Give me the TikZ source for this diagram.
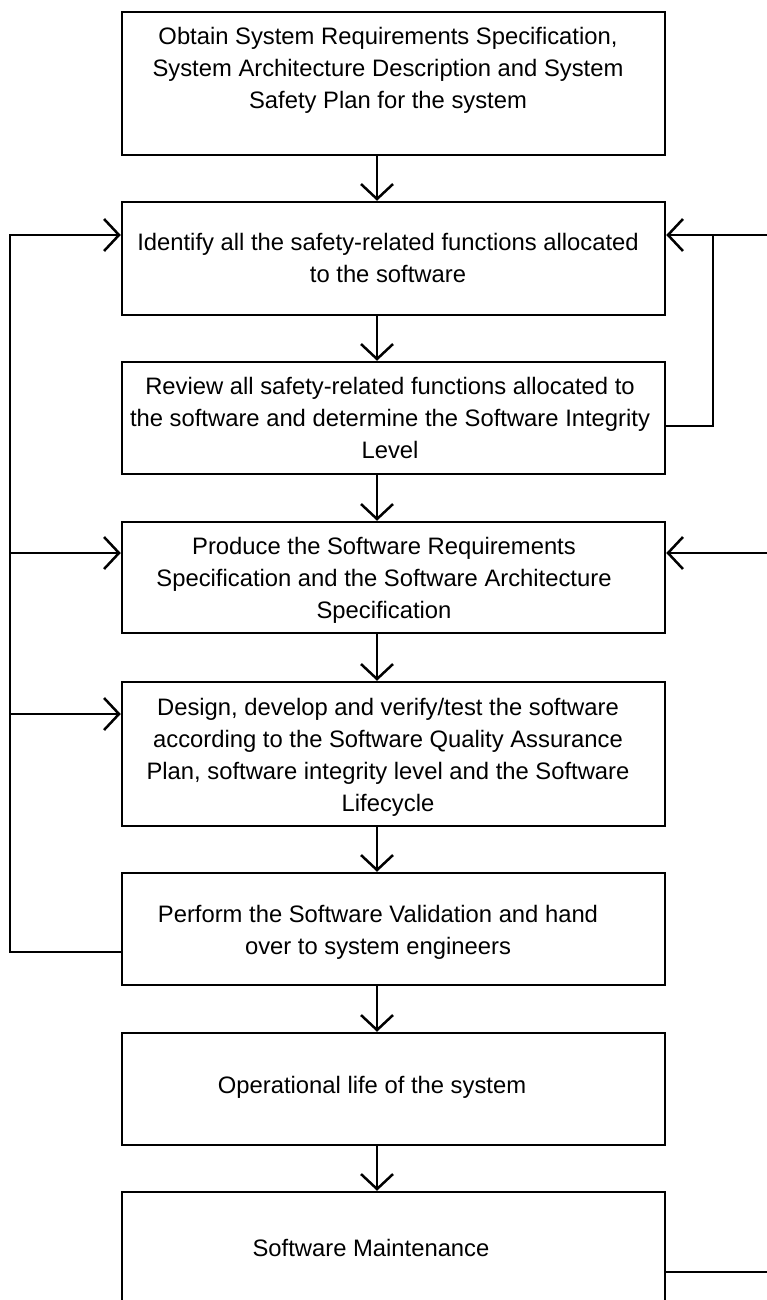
\documentclass[tikz,border=0pt]{standalone}
\usepackage{fontspec}
\setmainfont{Liberation Sans}
\usetikzlibrary{arrows.meta}
\tikzset{
  box/.style={draw=black, line width=2.5pt, rectangle, minimum width=543pt, inner sep=0pt, fill=white},
  txt/.style={align=center, inner sep=0pt, font=\fontsize{23.8}{32}\selectfont},
  conn/.style={draw=black, line width=2.5pt},
  arr/.style={conn, -{Straight Barb[length=15pt, width=32pt, line width=2.5pt]}}
}
\begin{document}
\begin{tikzpicture}[x=1pt,y=-1pt]
\clip (0,0) rectangle (767,1300);
\fill[white] (0,0) rectangle (767,1300);

% boxes
\node[box, minimum height=143pt] (b1) at (393.5,83.5) {};
\node[box, minimum height=113pt] (b2) at (393.5,258.5) {};
\node[box, minimum height=112pt] (b3) at (393.5,418) {};
\node[box, minimum height=111pt] (b4) at (393.5,577.5) {};
\node[box, minimum height=144pt] (b5) at (393.5,754) {};
\node[box, minimum height=112pt] (b6) at (393.5,929) {};
\node[box, minimum height=112pt] (b7) at (393.5,1089) {};
\node[box, minimum height=113pt] (b8) at (393.5,1248.5) {};

% texts
\node[txt] (t1) at (388,70) {Obtain System Requirements Specification,\\System Architecture Description and System\\Safety Plan for the system};
\node[txt] (t2) at (388,258) {Identify all the safety-related functions allocated\\to the software};
\node[txt] (t3) at (390,418) {Review all safety-related functions allocated to\\the software and determine the Software Integrity\\Level};
\node[txt] (t4) at (384,580) {Produce the Software Requirements\\Specification and the Software Architecture\\Specification};
\node[txt] (t5) at (388,757) {Design, develop and verify/test the software\\according to the Software Quality Assurance\\Plan, software integrity level and the Software\\Lifecycle};
\node[txt] (t6) at (378,932) {Perform the Software Validation and hand\\over to system engineers};
\node[txt] (t7) at (372,1087) {Operational life of the system};
\node[txt] (t8) at (371,1248) {Software Maintenance};

% main flow arrows
\coordinate (ax) at (377,0);
\draw[arr] (b1.south -| ax) -- (b2.north -| ax);
\draw[arr] (b2.south -| ax) -- (b3.north -| ax);
\draw[arr] (b3.south -| ax) -- (b4.north -| ax);
\draw[arr] (b4.south -| ax) -- (b5.north -| ax);
\draw[arr] (b5.south -| ax) -- (b6.north -| ax);
\draw[arr] (b6.south -| ax) -- (b7.north -| ax);
\draw[arr] (b7.south -| ax) -- (b8.north -| ax);

% left feedback
\coordinate (L) at (10,952);
\coordinate (y2) at (0,235);
\coordinate (y4) at (0,553);
\coordinate (y5) at (0,714);
\draw[arr] (b6.west |- L) -- (L) -- (L |- y2) -- (b2.west |- y2);
\draw[arr] (L |- y4) -- (b4.west |- y4);
\draw[arr] (L |- y5) -- (b5.west |- y5);

% right feedback
\coordinate (Rt) at (770,235);
\coordinate (R3) at (713,426);
\coordinate (R4) at (770,553);
\coordinate (R8) at (770,1272);
\draw[arr] (Rt) -- (b2.east |- Rt);
\draw[conn] (b3.east |- R3) -- (R3) -- (R3 |- Rt);
\draw[arr] (R4) -- (b4.east |- R4);
\draw[conn] (b8.east |- R8) -- (R8);
\end{tikzpicture}
\end{document}
